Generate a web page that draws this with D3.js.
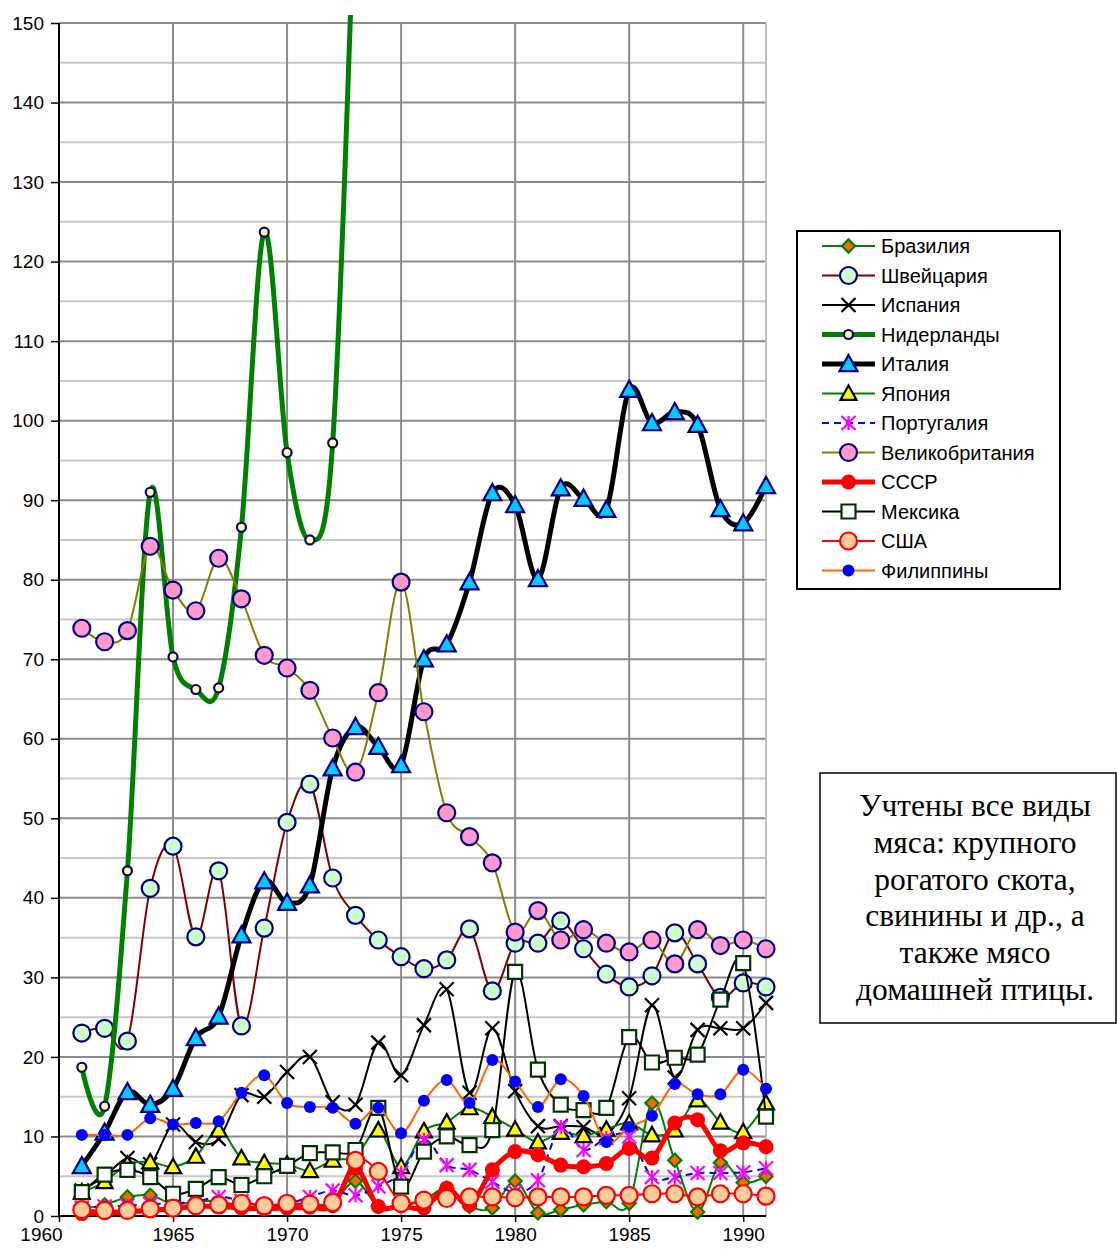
<!DOCTYPE html>
<html><head><meta charset="utf-8">
<script src="https://cdn.jsdelivr.net/npm/d3@7"></script>
<style>
html,body{margin:0;padding:0;background:#fff;}
svg{display:block;}
</style></head>
<body>
<svg id="chart" width="1117" height="1251"></svg>
<script>
const years = [1961,1962,1963,1964,1965,1966,1967,1968,1969,1970,1971,1972,1973,1974,1975,1976,1977,1978,1979,1980,1981,1982,1983,1984,1985,1986,1987,1988,1989,1990,1991];
const brazil = [1.0,1.4,2.4,2.6,1.5,1.8,1.9,1.2,1.1,1.3,1.5,1.6,4.4,1.2,1.5,2.0,3.5,1.2,1.0,4.4,0.4,0.8,1.4,1.8,1.6,14.2,7.0,0.5,6.7,4.2,5.0];
const switzerland = [23.0,23.6,22.0,41.2,46.5,35.1,43.4,23.9,36.2,49.5,54.3,42.5,37.8,34.7,32.6,31.1,32.2,36.1,28.3,34.3,34.3,37.1,33.6,30.4,28.8,30.2,35.6,31.7,27.5,29.3,28.8];
const spain = [3.2,5.0,7.3,6.5,11.5,9.3,9.7,15.2,15.0,18.1,20.0,14.3,14.0,21.8,17.7,24.0,28.5,15.5,23.6,15.7,11.3,11.3,11.2,10.3,14.8,26.5,17.4,23.4,23.6,23.6,26.8];
const netherlands = [18.7,13.8,43.4,91.0,70.3,66.2,66.4,86.6,123.7,96.0,85.0,97.2,170];
const italy = [6.3,10.5,15.6,14.0,16.0,22.4,25.1,35.3,42.1,39.4,41.6,56.3,61.5,59.0,56.7,70.0,71.9,79.7,90.9,89.4,80.1,91.5,90.2,88.8,103.9,99.7,101.1,99.5,88.9,87.1,91.8];
const japan = [3.0,4.3,6.5,6.8,6.2,7.5,10.8,7.3,6.7,6.5,5.7,7.0,7.5,10.8,6.2,10.7,11.8,13.6,12.5,10.9,9.3,10.5,10.1,10.9,11.7,10.2,10.8,14.6,11.8,10.6,14.2];
const portugal = [1.0,1.2,1.3,1.5,1.6,1.8,2.4,1.9,1.2,1.5,2.4,3.2,2.6,3.7,5.4,9.6,6.4,5.8,4.3,3.0,4.5,11.2,8.3,9.8,10.0,4.9,4.9,5.4,5.4,5.5,6.0];
const uk = [73.9,72.2,73.6,84.2,78.7,76.1,82.7,77.6,70.5,68.9,66.1,60.1,55.8,65.8,79.7,63.4,50.7,47.7,44.4,35.7,38.4,34.7,36.0,34.3,33.2,34.7,31.7,36.0,34.0,34.7,33.6];
const ussr = [0.3,0.4,0.5,0.7,0.9,1.2,1.2,1.0,0.9,1.0,1.1,1.3,6.0,1.2,1.3,1.0,3.5,1.4,5.8,8.1,7.7,6.4,6.2,6.6,8.5,7.3,11.7,12.1,8.2,9.2,8.7];
const mexico = [3.0,5.2,5.8,4.9,2.8,3.4,4.9,3.9,5.0,6.3,7.9,8.0,8.3,13.6,3.7,8.1,10.0,8.9,10.8,30.7,18.4,14.0,13.3,13.6,22.5,19.3,19.9,20.3,27.2,31.8,12.5];
const usa = [0.8,0.7,0.7,0.9,1.0,1.3,1.4,1.6,1.3,1.6,1.5,1.7,7.0,5.6,1.6,2.0,2.2,2.4,2.4,2.3,2.4,2.4,2.4,2.6,2.6,2.8,2.8,2.4,2.8,2.8,2.5];
const philippines = [10.2,10.2,10.2,12.3,11.5,11.7,11.9,15.5,17.7,14.2,13.7,13.6,11.6,13.6,10.4,14.5,17.1,14.2,19.6,16.9,13.7,17.2,15.1,9.3,11.2,12.6,16.6,15.3,15.3,18.4,16.0];

const seriesNames = ["Бразилия","Швейцария","Испания","Нидерланды","Италия","Япония","Португалия","Великобритания","СССР","Мексика","США","Филиппины"];
const yTicks = [0,10,20,30,40,50,60,70,80,90,100,110,120,130,140,150];
const xTicks = [1960,1965,1970,1975,1980,1985,1990];
const noteLines = ["Учтены все виды","мяса: крупного","рогатого скота,","свинины и др., а","также мясо","домашней птицы."];

const seriesData = [brazil,switzerland,spain,netherlands,italy,japan,portugal,uk,ussr,mexico,usa,philippines];
const styles = [
  {line:"#008000", w:2, marker:"diamond", fill:"#ff6600", stroke:"#008000", size:11},
  {line:"#800000", w:2, marker:"circle", fill:"#ccffcc", stroke:"#000080", size:8.5},
  {line:"#000000", w:2, marker:"x", fill:"none", stroke:"#000000", size:7},
  {line:"#008000", w:5, marker:"circle", fill:"#ffff99", stroke:"#000080", size:4.5},
  {line:"#000000", w:5, marker:"triangle", fill:"#00ccff", stroke:"#000080", size:9},
  {line:"#008000", w:2, marker:"triangle", fill:"#ffff00", stroke:"#000000", size:8},
  {line:"#0000ff", w:2, marker:"star", fill:"none", stroke:"#ff00ff", size:7, dash:"7,5"},
  {line:"#808000", w:2, marker:"circle", fill:"#ff99cc", stroke:"#000080", size:8.5},
  {line:"#ff0000", w:5, marker:"dot", fill:"#ff0000", stroke:"#ff0000", size:7.5},
  {line:"#000000", w:2, marker:"square", fill:"#ffffff", stroke:"#003300", size:7},
  {line:"#ff0000", w:2, marker:"circle", fill:"#ffcc99", stroke:"#ff0000", size:8.5},
  {line:"#ff6600", w:2, marker:"dot", fill:"#0000ff", stroke:"#0000ff", size:6}
];

const svg = d3.select("#chart");
const x = d3.scaleLinear().domain([1960,1991]).range([59,766]);
const y = d3.scaleLinear().domain([0,150]).range([1216,23]);

// gridlines
const grid = svg.append("g");
const minor = d3.range(5,150,10);
grid.selectAll("line.mn").data(minor).enter().append("line")
  .attr("x1",x(1960)).attr("x2",x(1991)).attr("y1",d=>y(d)).attr("y2",d=>y(d))
  .attr("stroke","#c8c8c8").attr("stroke-width",2);
grid.selectAll("line.mj").data(yTicks.slice(1)).enter().append("line")
  .attr("x1",x(1960)).attr("x2",x(1991)).attr("y1",d=>y(d)).attr("y2",d=>y(d))
  .attr("stroke","#8c8c8c").attr("stroke-width",2);
grid.selectAll("line.vx").data(xTicks.slice(1)).enter().append("line")
  .attr("x1",d=>x(d)).attr("x2",d=>x(d)).attr("y1",y(0)).attr("y2",y(150))
  .attr("stroke","#8c8c8c").attr("stroke-width",2);
grid.append("line").attr("x1",x(1991)).attr("x2",x(1991)).attr("y1",y(0)).attr("y2",y(150))
  .attr("stroke","#c0c0c0").attr("stroke-width",2);

// axes
const yAxis = d3.axisLeft(y).tickValues(yTicks).tickSize(8).tickFormat(d3.format("d"));
const ya = svg.append("g").attr("transform",`translate(${x(1960)},0)`).call(yAxis);
ya.select(".domain").attr("stroke","#000").attr("stroke-width",2).attr("d",`M-0,${y(0)}V${y(150)}`);
ya.selectAll(".tick line").attr("stroke","#000").attr("stroke-width",1.5);
ya.selectAll(".tick text").attr("font-family","'Liberation Sans',Arial,sans-serif").attr("font-size",19).attr("fill","#000").attr("x",-15);

const xAxis = d3.axisBottom(x).tickValues(xTicks).tickSize(6).tickFormat(d3.format("d"));
const xa = svg.append("g").attr("transform",`translate(0,${y(0)})`).call(xAxis);
xa.select(".domain").attr("stroke","#000").attr("stroke-width",2).attr("d",`M${x(1960)},0H${x(1991)}`);
xa.selectAll(".tick line").attr("stroke","#000").attr("stroke-width",1.5);
xa.selectAll(".tick text").attr("font-family","'Liberation Sans',Arial,sans-serif").attr("font-size",19).attr("fill","#000").attr("y",12);
xa.selectAll(".tick text").filter(d=>d===1960).attr("dx",-18);

// clip
svg.append("defs").append("clipPath").attr("id","plotclip").append("rect")
  .attr("x",x(1960)).attr("y",15).attr("width",x(1991)-x(1960)+4).attr("height",y(0)-15+4);

function markerPath(type, s){
  switch(type){
    case "x": return `M${-s},${-s}L${s},${s}M${-s},${s}L${s},${-s}`;
    case "star": return `M0,${-s}L0,${s}M${-s},${-s}L${s},${s}M${-s},${s}L${s},${-s}`;
    case "triangle": return `M0,${-s}L${s},${s*0.8}L${-s},${s*0.8}Z`;
    case "diamond": return `M0,${-s*0.6}L${s*0.6},0L0,${s*0.6}L${-s*0.6},0Z`;
    case "square": return `M${-s},${-s}H${s}V${s}H${-s}Z`;
  }
}
function drawMarker(g, type, st, cx, cy){
  if(type==="circle"||type==="dot"){
    g.append("circle").attr("cx",cx).attr("cy",cy).attr("r",st.size)
      .attr("fill",st.fill).attr("stroke",st.stroke).attr("stroke-width",type==="dot"?0:2.2);
  } else {
    g.append("path").attr("transform",`translate(${cx},${cy})`).attr("d",markerPath(type,st.size))
      .attr("fill",st.fill).attr("stroke",st.stroke).attr("stroke-width",2.2);
  }
}

const line = d3.line().defined(d=>d[1]!=null).x(d=>x(d[0])).y(d=>y(d[1])).curve(d3.curveCardinal.tension(0));
const plot = svg.append("g");
seriesData.forEach((vals,i)=>{
  const st = styles[i];
  const pts = vals.map((v,j)=>[years[j],v]);
  const g = plot.append("g");
  g.append("path").datum(pts).attr("d",line).attr("clip-path","url(#plotclip)")
    .attr("fill","none").attr("stroke",st.line).attr("stroke-width",st.w)
    .attr("stroke-linejoin","round").attr("stroke-dasharray",st.dash||null);
  pts.forEach(p=>{ if(p[1]!=null && p[1]<=150) drawMarker(g, st.marker, st, x(p[0]), y(p[1])); });
});

// legend
const lg = svg.append("g");
lg.append("rect").attr("x",797).attr("y",231).attr("width",263).attr("height",358)
  .attr("fill","#fff").attr("stroke","#000").attr("stroke-width",2);
seriesNames.forEach((name,i)=>{
  const st = styles[i];
  const cy = 246 + i*29.5;
  const g = lg.append("g");
  g.append("line").attr("x1",822).attr("x2",875).attr("y1",cy).attr("y2",cy)
    .attr("stroke",st.line).attr("stroke-width",st.w).attr("stroke-dasharray",st.dash||null);
  drawMarker(g, st.marker, st, 848.5, cy);
  g.append("text").attr("x",881).attr("y",cy).attr("dy","0.35em").text(name)
    .attr("font-family","'Liberation Sans',Arial,sans-serif").attr("font-size",20).attr("fill","#000");
});

// note box
const nb = svg.append("g");
nb.append("rect").attr("x",820).attr("y",773).attr("width",296).attr("height",250)
  .attr("fill","#fff").attr("stroke","#000").attr("stroke-width",1.5);
noteLines.forEach((t,i)=>{
  nb.append("text").attr("x",975).attr("y",805+i*36.8).attr("dy","0.35em").attr("text-anchor","middle")
    .attr("font-family","'Liberation Serif','Times New Roman',serif").attr("font-size",31.5).attr("fill","#000").text(t);
});
</script>
</body></html>
